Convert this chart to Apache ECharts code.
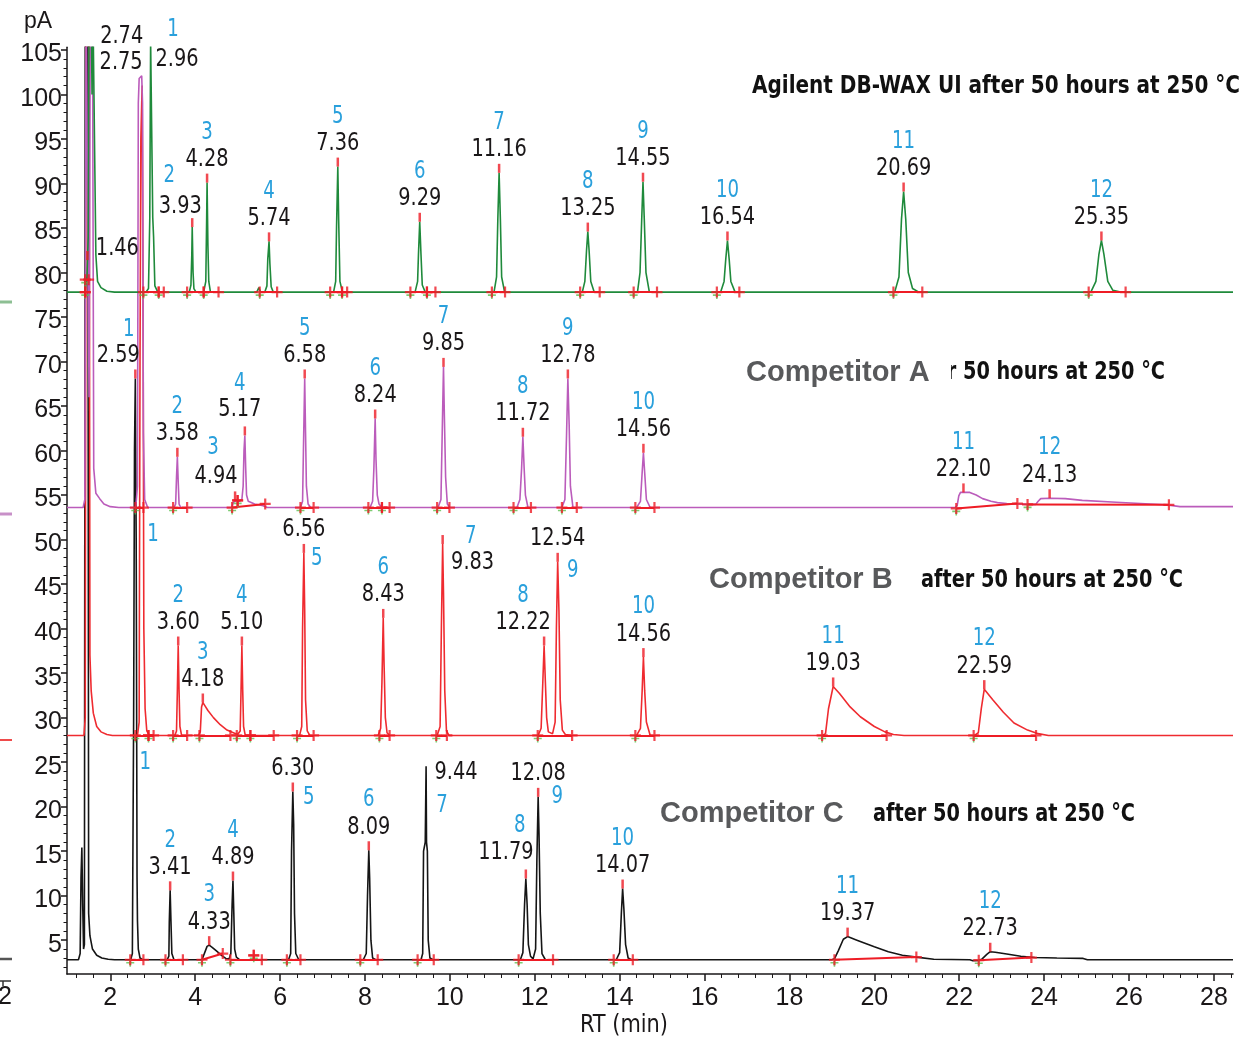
<!DOCTYPE html>
<html>
<head>
<meta charset="utf-8">
<title>DB-WAX UI column bleed comparison</title>
<script src="https://cdn.jsdelivr.net/npm/echarts@6/dist/echarts.min.js"></script>
<style>
  html, body { margin: 0; padding: 0; background: #ffffff; }
  #chart { width: 1246px; height: 1041px; }
</style>
</head>
<body>
<div id="chart"></div>
<script>
// ---------- Chromatogram traces: [retention time (min), signal (pA)] ----------
const agilentTrace = [
  [0.98,77.8],[1.40,77.8],[1.45,79.5],[1.48,84],[1.50,110],[1.55,110],[1.57,100],[1.59,110],[1.63,110],[1.66,82],[1.70,79.0],[1.78,78.3],[1.92,77.9],[2.10,77.8],
  [2.84,77.8],[2.90,78.2],[2.93,86],[2.95,106],[2.96,106],[2.98,106],[3.00,86.2],[3.02,84],[3.05,78.5],[3.12,77.8],
  [3.86,77.8],[3.90,78.6],[3.92,82],[3.93,85.1],[3.95,80],[3.97,78.2],[4.02,77.8],
  [4.20,77.8],[4.25,79],[4.27,86],[4.28,90.1],[4.30,83],[4.32,79],[4.36,77.8],
  [5.45,77.8],[5.50,78.3],[5.54,77.8],
  [5.64,77.8],[5.69,78.5],[5.71,81.5],[5.74,83.5],[5.76,81],[5.79,78.4],[5.84,77.8],
  [7.26,77.8],[7.31,79],[7.33,85],[7.36,91.9],[7.38,86],[7.41,79],[7.47,77.8],
  [9.18,77.8],[9.24,79],[9.26,82],[9.29,85.7],[9.32,82],[9.35,78.6],[9.42,77.8],
  [11.04,77.8],[11.10,79.5],[11.13,86],[11.16,91.2],[11.19,86],[11.22,79.5],[11.29,77.8],
  [13.12,77.8],[13.18,79],[13.22,82.5],[13.25,84.6],[13.28,82.5],[13.32,79],[13.40,77.8],
  [14.42,77.8],[14.48,80],[14.52,86],[14.55,90.2],[14.58,86],[14.62,80],[14.70,77.8],
  [16.38,77.8],[16.46,79],[16.50,81.5],[16.54,83.6],[16.58,81.5],[16.62,79],[16.72,77.8],
  [20.48,77.8],[20.58,79.5],[20.64,86],[20.69,89.1],[20.74,86],[20.80,80],[20.90,78.2],[21.05,77.8],
  [25.10,77.8],[25.22,79],[25.29,82],[25.35,83.6],[25.41,82],[25.50,79],[25.62,78],[25.80,77.8],
  [28.45,77.8]
];
const compATrace = [
  [0.98,53.6],[1.36,53.6],[1.40,54.5],[1.43,110],[1.47,110],[1.50,66],[1.53,110],[1.58,110],[1.61,58],[1.66,55.2],[1.75,54.6],[1.85,54.0],[2.00,53.7],[2.20,53.6],
  [2.60,53.6],[2.64,56],[2.66,99],[2.68,101.8],[2.74,102.1],[2.76,99],[2.78,62],[2.81,54.5],[2.88,53.6],
  [3.50,53.6],[3.54,54.0],[3.56,57],[3.58,59.3],[3.60,56.5],[3.62,54.0],[3.66,53.6],
  [4.86,53.6],[4.90,54.2],[4.94,54.4],[4.98,54.4],[5.04,54.3],[5.10,54.5],[5.13,56],[5.15,60],[5.17,61.7],[5.19,58],[5.21,55],[5.25,54.3],[5.40,54.0],[5.60,53.8],[5.70,53.6],
  [6.48,53.6],[6.53,54.3],[6.55,60],[6.58,68.1],[6.60,62],[6.62,56],[6.66,54],[6.72,53.6],
  [8.12,53.6],[8.18,54.3],[8.21,58],[8.24,63.6],[8.26,59],[8.29,55],[8.33,54],[8.40,53.6],
  [9.72,53.6],[9.79,54.5],[9.82,62],[9.85,69.4],[9.87,64],[9.90,57],[9.94,54],[10.00,53.6],
  [11.58,53.6],[11.65,54.5],[11.69,58],[11.72,61.55],[11.75,58],[11.78,55],[11.84,53.6],
  [12.64,53.6],[12.71,54.5],[12.75,62],[12.78,68.1],[12.81,63],[12.84,56],[12.90,53.6],
  [14.40,53.6],[14.49,54.3],[14.53,57.5],[14.56,59.75],[14.59,57.5],[14.63,54.5],[14.72,53.6],
  [21.90,53.6],[21.95,53.8],[21.99,54.9],[22.03,55.3],[22.10,55.3],[22.25,55.3],[22.40,55.0],[22.55,54.6],[22.75,54.3],[22.90,54.15],[23.12,54.05],[23.40,54.0],[23.61,53.95],
  [23.80,53.95],[23.86,54.3],[23.92,54.6],[24.13,54.65],[24.50,54.6],[24.90,54.4],[25.70,54.2],[26.50,54.0],[26.90,53.9],[27.20,53.7],[28.45,53.7]
];
const compBTrace = [
  [0.98,28.0],[1.38,28.0],[1.41,30],[1.43,110],[1.50,110],[1.52,37],[1.55,33],[1.60,30.5],[1.68,29.0],[1.78,28.4],[1.92,28.1],[2.05,28.0],
  [2.64,28.0],[2.68,29.5],[2.70,70],[2.72,95],[2.75,101],[2.77,80],[2.79,40],[2.82,31],[2.86,28.5],[2.92,28.0],
  [3.52,28.0],[3.56,28.5],[3.58,33],[3.60,38.1],[3.62,33],[3.64,29],[3.68,28.0],
  [4.08,28.0],[4.12,28.4],[4.15,31.2],[4.18,31.7],[4.22,31.4],[4.30,30.8],[4.43,30.0],[4.59,29.2],[4.75,28.6],[4.90,28.3],[5.00,28.1],
  [5.06,28.5],[5.08,33],[5.10,38.1],[5.12,33],[5.14,29],[5.18,28.0],
  [6.46,28.0],[6.51,29],[6.53,40],[6.56,48.5],[6.58,42],[6.60,32],[6.64,28.5],[6.70,28.0],
  [8.31,28.0],[8.37,28.8],[8.40,34],[8.43,41.2],[8.45,36],[8.48,30],[8.52,28.3],[8.58,28.0],
  [9.70,28.0],[9.77,29],[9.80,40],[9.83,49.5],[9.85,44],[9.88,33],[9.92,28.5],[9.98,28.0],
  [12.08,28.0],[12.15,28.8],[12.19,34],[12.22,38.1],[12.25,34],[12.28,30],[12.32,28.4],[12.36,28.2],
  [12.42,28.2],[12.48,29.5],[12.51,40],[12.54,47.5],[12.57,42],[12.60,32],[12.65,28.6],[12.72,28.1],[12.88,28.0],
  [14.40,28.0],[14.49,28.8],[14.53,33],[14.56,36.8],[14.59,33],[14.63,29.5],[14.72,28.0],
  [18.78,28.0],[18.85,28.2],[18.92,31],[19.03,33.5],[19.18,32.7],[19.43,31.2],[19.67,30.1],[20.00,29.0],[20.25,28.4],[20.45,28.1],[20.70,28.0],
  [22.36,28.0],[22.45,28.3],[22.52,31],[22.59,33.2],[22.79,32.0],[23.04,30.6],[23.29,29.4],[23.61,28.6],[23.86,28.2],[24.10,28.0],[28.45,28.0]
];
const compCTrace = [
  [0.98,2.8],[1.25,2.8],[1.29,3.5],[1.31,12],[1.33,15.4],[1.35,9],[1.37,4],[1.39,4.5],[1.41,110],[1.47,110],[1.49,8],[1.52,5.5],[1.58,4.0],[1.68,3.3],[1.80,3.0],[1.95,2.85],[2.10,2.8],
  [2.48,2.8],[2.52,3.5],[2.55,30],[2.57,60],[2.59,68.1],[2.61,50],[2.62,31.6],[2.63,12],[2.64,7.2],[2.66,4],[2.70,3.0],[2.76,2.8],
  [3.34,2.8],[3.38,3.2],[3.39,7],[3.41,10.6],[3.43,7],[3.45,3.5],[3.50,2.8],
  [4.16,2.8],[4.20,2.9],[4.24,3.8],[4.28,4.3],[4.33,4.44],[4.40,4.2],[4.50,3.8],[4.62,3.3],[4.72,2.95],
  [4.80,2.9],[4.84,3.5],[4.87,9],[4.89,11.7],[4.91,8],[4.93,4],[4.97,3.1],[5.05,2.8],
  [6.20,2.8],[6.25,3.5],[6.27,15],[6.30,21.7],[6.32,18],[6.34,8],[6.37,3.5],[6.44,2.8],
  [7.96,2.8],[8.03,3.5],[8.06,10],[8.09,15.1],[8.11,12],[8.14,5],[8.18,3.0],[8.25,2.8],
  [9.32,2.8],[9.36,3.5],[9.38,15],[9.42,16],[9.44,24.55],[9.45,16],[9.47,15],[9.49,5],[9.53,3.0],[9.60,2.8],
  [11.66,2.8],[11.72,3.6],[11.76,9],[11.79,11.93],[11.82,9],[11.85,4.5],[11.90,3.2],[11.96,2.9],
  [11.98,2.9],[12.02,4],[12.05,14],[12.08,21.1],[12.10,17],[12.13,8],[12.17,3.5],[12.25,2.8],
  [13.92,2.8],[14.00,3.6],[14.04,8],[14.07,10.8],[14.10,8.5],[14.14,4.5],[14.20,3.0],[14.28,2.8],
  [19.00,2.8],[19.06,2.9],[19.15,3.8],[19.27,5.1],[19.37,5.4],[19.59,5.0],[20.00,4.25],[20.33,3.7],[20.66,3.3],[20.99,3.1],[21.40,2.85],
  [22.25,2.8],[22.32,2.7],[22.46,2.72],[22.54,2.9],[22.65,3.4],[22.73,3.7],[22.85,3.65],[23.12,3.45],[23.45,3.2],[23.78,3.05],[24.30,3.0],[24.92,2.95],[25.02,2.8],[28.45,2.8]
];

// ---------- Peak tables: compound number, retention time, apex height ----------
const agilentPeakNo  = ['', '1', '2', '3', '4', '5', '6', '7', '8', '9', '10', '11', '12'];
const agilentPeakRT  = [1.46, 2.96, 3.93, 4.28, 5.74, 7.36, 9.29, 11.16, 13.25, 14.55, 16.54, 20.69, 25.35];
const agilentPeakTop = [81.4, 106, 85.1, 90.1, 83.5, 91.9, 85.7, 91.2, 84.6, 90.2, 83.6, 89.1, 83.6];

const compAPeakNo  = ['1', '2', '3', '4', '5', '6', '7', '8', '9', '10', '11', '12'];
const compAPeakRT  = [2.74, 3.58, 4.94, 5.17, 6.58, 8.24, 9.85, 11.72, 12.78, 14.56, 22.10, 24.13];
const compAPeakTop = [102.1, 59.3, 54.4, 61.7, 68.1, 63.6, 69.4, 61.55, 68.1, 59.75, 55.3, 54.65];

const compBPeakNo  = ['1', '2', '3', '4', '5', '6', '7', '8', '9', '10', '11', '12'];
const compBPeakRT  = [2.75, 3.60, 4.18, 5.10, 6.56, 8.43, 9.83, 12.22, 12.54, 14.56, 19.03, 22.59];
const compBPeakTop = [101, 38.1, 31.7, 38.1, 48.5, 41.2, 49.5, 38.1, 47.5, 36.8, 33.5, 33.2];

const compCPeakNo  = ['1', '2', '3', '4', '5', '6', '7', '8', '9', '10', '11', '12'];
const compCPeakRT  = [2.59, 3.41, 4.33, 4.89, 6.30, 8.09, 9.44, 11.79, 12.08, 14.07, 19.37, 22.73];
const compCPeakTop = [68.1, 10.6, 4.44, 11.7, 21.7, 15.1, 24.55, 11.93, 21.1, 10.8, 5.4, 3.7];

// ---------- Integration windows: [start RT, start pA, end RT, end pA] ----------
const agilentWindows = [
  [1.41,79.2,1.49,79.2],[1.41,77.8,1.41,77.8],
  [2.78,77.8,3.14,77.8],[3.14,77.8,3.26,77.8],[3.81,77.8,4.20,77.8],[4.20,77.8,4.55,77.8],[5.52,77.8,5.93,77.8],
  [7.18,77.8,7.46,77.8],[7.46,77.8,7.58,77.8],[9.07,77.8,9.46,77.8],[9.46,77.8,9.66,77.8],[10.99,77.8,11.30,77.8],
  [13.07,77.8,13.53,77.8],[14.33,77.8,14.88,77.8],[16.29,77.8,16.82,77.8],[20.45,77.8,21.13,77.8],[25.05,77.8,25.92,77.8]
];
const compAWindows = [
  [2.59,53.6,2.78,53.6],[3.48,53.6,3.81,53.6],[4.87,53.6,5.65,54.0],[5.00,54.4,5.00,54.4],[6.48,53.6,6.79,53.6],
  [8.08,53.6,8.40,53.6],[8.40,53.6,8.58,53.6],[9.70,53.6,9.99,53.6],[11.50,53.6,11.91,53.6],[12.64,53.6,12.99,53.6],
  [14.37,53.6,14.82,53.6],[21.93,53.5,23.37,54.05],[23.61,53.95,26.94,53.9]
];
const compBWindows = [
  [2.59,28.0,2.90,28.0],[2.90,28.0,3.02,28.0],[3.48,28.0,3.81,28.0],[4.10,28.0,4.83,28.0],[4.98,28.0,5.30,28.0],
  [5.30,28.0,5.85,28.0],[6.40,28.0,6.79,28.0],[8.34,28.0,8.58,28.0],[9.68,28.0,9.93,28.0],[12.07,28.0,12.88,28.0],
  [14.37,28.0,14.82,28.0],[18.77,28.0,20.29,28.0],[22.34,28.0,23.81,28.0]
];
const compCWindows = [
  [2.47,2.8,2.78,2.8],[3.30,2.8,3.71,2.8],[4.16,2.8,4.65,3.5],[4.83,2.8,5.57,2.8],[5.38,3.3,5.38,3.3],
  [6.16,2.8,6.48,2.8],[7.89,2.8,8.30,2.8],[9.24,2.8,9.62,2.8],[11.62,2.8,12.43,2.8],[13.86,2.8,14.31,2.8],
  [19.06,2.8,20.99,3.1],[22.46,2.75,23.70,3.05]
];

// ---------- Axis ticks ----------
const xTickLabels = [2, 4, 6, 8, 10, 12, 14, 16, 18, 20, 22, 24, 26, 28];
const yTickLabels = [5, 10, 15, 20, 25, 30, 35, 40, 45, 50, 55, 60, 65, 70, 75, 80, 85, 90, 95, 100, 105];

// ---------- Layout and styling ----------
const X_MIN = 0.98, X_MAX = 28.45, Y_MIN = 1.2, Y_MAX = 105.3;
const COND = '"DejaVu Sans Condensed", "Liberation Sans Narrow", sans-serif';
const SANS = '"Liberation Sans", Arial, Helvetica, sans-serif';
const INK = '#1a1718';
const NUM_BLUE = '#2aa0dc';
const MARK_RED = '#ee1c25';

const traceStyle = {
  agilent: { name: 'Agilent DB-WAX UI', color: '#1f8a3b' },
  compA:   { name: 'Competitor A', color: '#bb5cbb' },
  compB:   { name: 'Competitor B', color: '#ef2b30' },
  compC:   { name: 'Competitor C', color: '#151515' }
};

// label offsets (px) from the default spot above each apex: t = retention time, n = compound number
const labelNudge = {
  agilent: { 0: { t: [30, 11] }, 1: { t: [26, 41], n: [22, 39] }, 2: { t: [-12, 2], n: [-23, -1] } },
  compA:   { 0: { t: [-20, -16], n: [-13, 304] }, 2: { t: [-19, -1], n: [-22, -3] }, 3: { t: [-5, -3], n: [-5, -2] } },
  compB:   { 0: { t: [-21, 0], n: [11, 499] }, 4: { n: [13, 56] }, 6: { t: [30, 41], n: [28, 43] },
             7: { t: [-21, 0], n: [-21, 0] }, 8: { n: [15, 59] } },
  compC:   { 0: { t: [-17, 0], n: [10, 434] }, 4: { n: [16, 56] }, 6: { t: [30, 29], n: [16, 90] },
             7: { t: [-20, -3], n: [-6, -3] }, 8: { n: [19, 50] } }
};
// apexes drawn without the red apex tick
const noApexTick = { agilent: [1], compA: [0], compB: [0], compC: [6] };

const traces = {
  agilent: { data: agilentTrace, no: agilentPeakNo, rt: agilentPeakRT, top: agilentPeakTop, win: agilentWindows },
  compA:   { data: compATrace,   no: compAPeakNo,   rt: compAPeakRT,   top: compAPeakTop,   win: compAWindows },
  compB:   { data: compBTrace,   no: compBPeakNo,   rt: compBPeakRT,   top: compBPeakTop,   win: compBWindows },
  compC:   { data: compCTrace,   no: compCPeakNo,   rt: compCPeakRT,   top: compCPeakTop,   win: compCWindows }
};
const drawOrder = ['compC', 'compB', 'compA', 'agilent'];

// minor tick positions (0.4 min on x, 1 pA on y)
const xMinor = [];
for (let i = 3; i <= 71; i++) { const v = +(i * 0.4).toFixed(2); if (Math.abs(v / 2 - Math.round(v / 2)) > 1e-6) xMinor.push(v); }
const yMinor = [];
for (let v = 2; v <= 105; v++) { if (v % 5 !== 0) yMinor.push(v); }

// horizontal squeeze so a condensed face fills a given width
const measureCtx = document.createElement('canvas').getContext('2d');
function fitScale(text, font, width) {
  measureCtx.font = font;
  return width / measureCtx.measureText(text).width;
}

// ---------- Series ----------
const series = [];
drawOrder.forEach(key => {
  series.push({
    name: traceStyle[key].name,
    type: 'line',
    data: traces[key].data,
    showSymbol: false,
    symbol: 'none',
    clip: true,
    z: 2,
    lineStyle: { color: traceStyle[key].color, width: 1.6 },
    emphasis: { disabled: true }
  });
});

const baselineSegs = [], startMarks = [], endMarks = [], apexTicks = [], labelPts = [], labelInfo = [];
drawOrder.forEach(key => {
  const t = traces[key];
  t.win.forEach(w => {
    baselineSegs.push({ coords: [[w[0], w[1]], [w[2], w[3]]] });
    startMarks.push([w[0], w[1]]);
    endMarks.push([w[0], w[1]], [w[2], w[3]]);
  });
  t.rt.forEach((rt, i) => {
    const top = t.top[i];
    if (!noApexTick[key].includes(i)) apexTicks.push([rt, top]);
    const nd = (labelNudge[key] || {})[i] || {};
    const tn = nd.t || [0, 0], nn = nd.n || [0, 0];
    labelPts.push([rt, top]);
    labelInfo.push({ text: rt.toFixed(2), dx: tn[0], dy: -23 + tn[1], color: INK, size: 25, sx: 0.86 });
    if (t.no[i]) {
      labelPts.push([rt, top]);
      labelInfo.push({ text: t.no[i], dx: nn[0], dy: -50 + nn[1], color: NUM_BLUE, size: 24, sx: 0.84 });
    }
  });
});

series.push({
  type: 'lines', coordinateSystem: 'cartesian2d', polyline: false, z: 3,
  lineStyle: { color: MARK_RED, width: 2, opacity: 1 },
  data: baselineSegs, silent: true
});
const PLUS = 'path://M4,0H6V4H10V6H6V10H4V6H0V4H4Z';
series.push({
  type: 'scatter', data: startMarks, symbol: PLUS, symbolSize: 8, symbolOffset: [0, 3],
  itemStyle: { color: '#5cbf4f' }, z: 4, silent: true, clip: false
});
series.push({
  type: 'scatter', data: endMarks, symbol: PLUS, symbolSize: 11,
  itemStyle: { color: MARK_RED }, z: 5, silent: true, clip: false
});
series.push({
  type: 'scatter', data: apexTicks, symbol: 'rect', symbolSize: [2.5, 9], symbolOffset: [0, -4.5],
  itemStyle: { color: MARK_RED }, z: 5, silent: true, clip: true
});
// peak labels: retention time (black) and compound number (blue)
series.push({
  type: 'custom', data: labelPts, z: 6, silent: true, clip: false,
  renderItem: function (params, api) {
    const info = labelInfo[params.dataIndex];
    const p = api.coord([api.value(0), api.value(1)]);
    return {
      type: 'text',
      x: p[0] + info.dx, y: p[1] + info.dy,
      scaleX: info.sx,
      style: {
        text: info.text, font: info.size + 'px ' + COND, fill: info.color,
        align: 'center', verticalAlign: 'middle'
      }
    };
  }
});

// ---------- Annotations ----------
const titleFont = 'bold 25px ' + COND;
const compFont = 'bold 29px ' + SANS;
const afterText = 'after 50 hours at 250 °C';
const agilentText = 'Agilent DB-WAX UI after 50 hours at 250 °C';
const sAfter = fitScale(afterText, titleFont, 262);
const sAgilent = fitScale(agilentText, titleFont, 488);
const axisNameFont = '25px ' + COND;
const graphic = [
  { type: 'text', x: 24, y: 22, z: 10, style: { text: 'pA', font: '23px ' + SANS, fill: INK, verticalAlign: 'middle' } },
  { type: 'text', x: 624, y: 1025, z: 10, scaleX: fitScale('RT (min)', axisNameFont, 88),
    style: { text: 'RT (min)', font: axisNameFont, fill: INK, align: 'center', verticalAlign: 'middle' } },
  { type: 'text', x: 752, y: 86, z: 10, scaleX: sAgilent, style: { text: agilentText, font: titleFont, fill: '#111', verticalAlign: 'middle' } },
  { type: 'text', x: 1165, y: 372, z: 10, scaleX: sAfter, style: { text: afterText, font: titleFont, fill: '#111', align: 'right', verticalAlign: 'middle' } },
  { type: 'rect', z: 11, shape: { x: 738, y: 352, width: 213, height: 42 }, style: { fill: '#ffffff' } },
  { type: 'text', x: 746, y: 373, z: 12, style: { text: 'Competitor A', font: compFont, fill: '#58595b', verticalAlign: 'middle' } },
  { type: 'text', x: 709, y: 580, z: 12, style: { text: 'Competitor B', font: compFont, fill: '#58595b', verticalAlign: 'middle' } },
  { type: 'text', x: 921, y: 580, z: 10, scaleX: sAfter, style: { text: afterText, font: titleFont, fill: '#111', verticalAlign: 'middle' } },
  { type: 'text', x: 660, y: 814, z: 12, style: { text: 'Competitor C', font: compFont, fill: '#58595b', verticalAlign: 'middle' } },
  { type: 'text', x: 873, y: 814, z: 10, scaleX: sAfter, style: { text: afterText, font: titleFont, fill: '#111', verticalAlign: 'middle' } },
  // trace keys cut at the left margin
  { type: 'line', shape: { x1: 0, y1: 302, x2: 12, y2: 302 }, style: { stroke: '#8dbf93', lineWidth: 3 } },
  { type: 'line', shape: { x1: 0, y1: 514, x2: 12, y2: 514 }, style: { stroke: '#c890c8', lineWidth: 3 } },
  { type: 'line', shape: { x1: 0, y1: 740, x2: 12, y2: 740 }, style: { stroke: '#ef4b4b', lineWidth: 2 } },
  { type: 'line', shape: { x1: 0, y1: 959, x2: 12, y2: 959 }, style: { stroke: '#555555', lineWidth: 2.5 } },
  { type: 'line', shape: { x1: 0, y1: 981, x2: 11, y2: 981 }, style: { stroke: '#333333', lineWidth: 1.5 } },
  { type: 'line', shape: { x1: 3, y1: 981, x2: 3, y2: 986 }, style: { stroke: '#333333', lineWidth: 1.5 } },
  { type: 'text', x: -2, y: 997, style: { text: '2', font: '25px ' + SANS, fill: INK, verticalAlign: 'middle' } }
];

const axisLine = { show: true, onZero: false, lineStyle: { color: INK, width: 1.5 } };
const option = {
  animation: false,
  backgroundColor: '#ffffff',
  grid: { left: 67, right: 13, top: 47.3, bottom: 67, containLabel: false, outerBoundsMode: 'none' },
  xAxis: [
    {
      type: 'value', min: X_MIN, max: X_MAX, position: 'bottom',
      axisLine: axisLine, splitLine: { show: false },
      axisTick: { show: true, customValues: xTickLabels, length: 7, lineStyle: { color: INK, width: 1.5 } },
      axisLabel: { customValues: xTickLabels, margin: 12, fontSize: 25, fontFamily: SANS, color: INK }
    },
    {
      type: 'value', min: X_MIN, max: X_MAX, position: 'bottom',
      axisLine: { show: false }, splitLine: { show: false }, axisLabel: { show: false },
      axisTick: { show: true, customValues: xMinor, length: 4, lineStyle: { color: INK, width: 1 } }
    }
  ],
  yAxis: [
    {
      type: 'value', min: Y_MIN, max: Y_MAX, position: 'left',
      axisLine: axisLine, splitLine: { show: false },
      axisTick: { show: true, customValues: yTickLabels, length: 6, lineStyle: { color: INK, width: 1.5 } },
      axisLabel: { customValues: yTickLabels, margin: 5, fontSize: 25, fontFamily: SANS, color: INK,
                   verticalAlign: 'top', lineHeight: 9 }
    },
    {
      type: 'value', min: Y_MIN, max: Y_MAX, position: 'left',
      axisLine: { show: false }, splitLine: { show: false }, axisLabel: { show: false },
      axisTick: { show: true, customValues: yMinor, length: 3.5, lineStyle: { color: INK, width: 1 } }
    }
  ],
  graphic: graphic,
  series: series
};

const chart = echarts.init(document.getElementById('chart'));
chart.setOption(option);
</script>
</body>
</html>
